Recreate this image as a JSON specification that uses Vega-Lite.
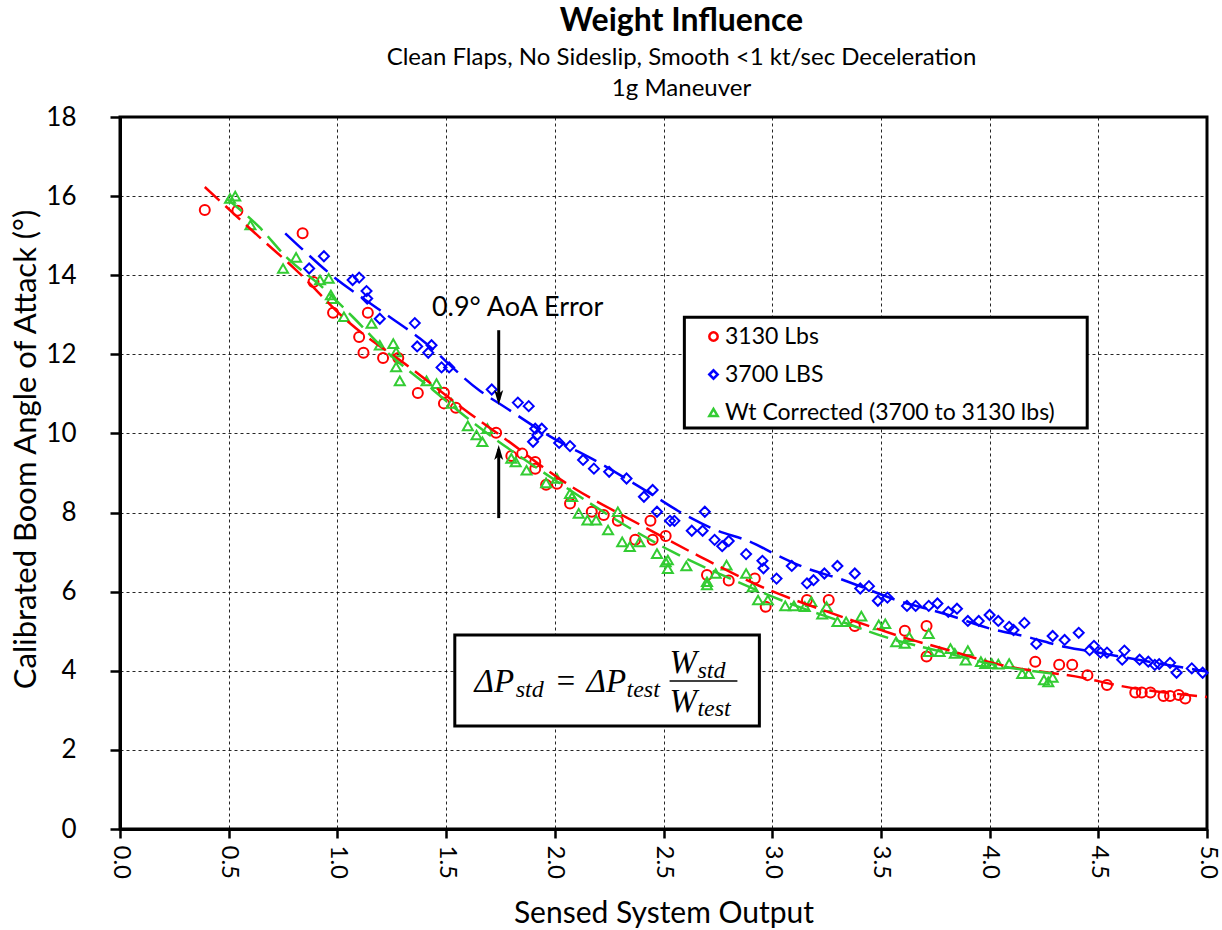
{
  "$schema": "https://vega.github.io/schema/vega-lite/v6.json",
  "width": 1087,
  "height": 712,
  "autosize": "none",
  "padding": {"left": 120, "top": 117, "right": 15, "bottom": 101},
  "background": "white",
  "config": {
    "view": {"stroke": "black", "strokeWidth": 3},
    "font": "Lato",
    "axis": {
      "labelFont": "Lato", "titleFont": "Lato", "labelColor": "black", "titleColor": "black",
      "titleFontWeight": "normal", "domainColor": "black", "domainWidth": 3, "tickColor": "black",
      "tickWidth": 2.5, "gridColor": "black", "gridDash": [3, 3], "gridWidth": 1, "gridOpacity": 0.85
    }
  },
  "title": {
    "text": "Weight Influence",
    "subtitle": ["Clean Flaps, No Sideslip, Smooth <1 kt/sec Deceleration", "1g Maneuver"],
    "font": "Lato", "fontSize": 32, "fontWeight": "bold", "color": "black",
    "subtitleFont": "Lato", "subtitleFontSize": 24, "subtitleColor": "black",
    "subtitleLineHeight": 31, "subtitlePadding": 8,
    "anchor": "middle", "dx": 18, "offset": 2
  },
  "datasets": {
    "pts": [
      {"series": "3130 Lbs", "x": 0.39, "y": 15.65}, {"series": "3130 Lbs", "x": 0.54, "y": 15.63}, {"series": "3130 Lbs", "x": 0.84, "y": 15.06},
      {"series": "3130 Lbs", "x": 0.89, "y": 13.83}, {"series": "3130 Lbs", "x": 0.98, "y": 13.05}, {"series": "3130 Lbs", "x": 1.14, "y": 13.05},
      {"series": "3130 Lbs", "x": 1.10, "y": 12.44}, {"series": "3130 Lbs", "x": 1.12, "y": 12.04}, {"series": "3130 Lbs", "x": 1.21, "y": 11.91},
      {"series": "3130 Lbs", "x": 1.28, "y": 11.91}, {"series": "3130 Lbs", "x": 1.37, "y": 11.02}, {"series": "3130 Lbs", "x": 1.49, "y": 11.03},
      {"series": "3130 Lbs", "x": 1.49, "y": 10.76}, {"series": "3130 Lbs", "x": 1.545, "y": 10.65}, {"series": "3130 Lbs", "x": 1.73, "y": 10.02},
      {"series": "3130 Lbs", "x": 1.80, "y": 9.43}, {"series": "3130 Lbs", "x": 1.85, "y": 9.49}, {"series": "3130 Lbs", "x": 1.91, "y": 9.28},
      {"series": "3130 Lbs", "x": 1.91, "y": 9.11}, {"series": "3130 Lbs", "x": 1.96, "y": 8.70}, {"series": "3130 Lbs", "x": 2.01, "y": 8.73},
      {"series": "3130 Lbs", "x": 2.07, "y": 8.23}, {"series": "3130 Lbs", "x": 2.17, "y": 8.02}, {"series": "3130 Lbs", "x": 2.225, "y": 7.94},
      {"series": "3130 Lbs", "x": 2.29, "y": 7.79}, {"series": "3130 Lbs", "x": 2.44, "y": 7.79}, {"series": "3130 Lbs", "x": 2.37, "y": 7.31},
      {"series": "3130 Lbs", "x": 2.45, "y": 7.31}, {"series": "3130 Lbs", "x": 2.51, "y": 7.41}, {"series": "3130 Lbs", "x": 2.70, "y": 6.42},
      {"series": "3130 Lbs", "x": 2.80, "y": 6.28}, {"series": "3130 Lbs", "x": 2.92, "y": 6.33}, {"series": "3130 Lbs", "x": 2.97, "y": 5.62},
      {"series": "3130 Lbs", "x": 3.16, "y": 5.79}, {"series": "3130 Lbs", "x": 3.26, "y": 5.79}, {"series": "3130 Lbs", "x": 3.38, "y": 5.13},
      {"series": "3130 Lbs", "x": 3.61, "y": 5.01}, {"series": "3130 Lbs", "x": 3.71, "y": 5.13}, {"series": "3130 Lbs", "x": 3.71, "y": 4.36},
      {"series": "3130 Lbs", "x": 4.21, "y": 4.23}, {"series": "3130 Lbs", "x": 4.32, "y": 4.15}, {"series": "3130 Lbs", "x": 4.38, "y": 4.15},
      {"series": "3130 Lbs", "x": 4.45, "y": 3.89}, {"series": "3130 Lbs", "x": 4.54, "y": 3.64}, {"series": "3130 Lbs", "x": 4.67, "y": 3.45},
      {"series": "3130 Lbs", "x": 4.70, "y": 3.45}, {"series": "3130 Lbs", "x": 4.74, "y": 3.45}, {"series": "3130 Lbs", "x": 4.80, "y": 3.36},
      {"series": "3130 Lbs", "x": 4.83, "y": 3.36}, {"series": "3130 Lbs", "x": 4.87, "y": 3.39}, {"series": "3130 Lbs", "x": 4.90, "y": 3.30},

      {"series": "3700 LBS", "x": 0.87, "y": 14.17}, {"series": "3700 LBS", "x": 0.938, "y": 14.48}, {"series": "3700 LBS", "x": 1.07, "y": 13.88},
      {"series": "3700 LBS", "x": 1.10, "y": 13.94}, {"series": "3700 LBS", "x": 1.134, "y": 13.6}, {"series": "3700 LBS", "x": 1.137, "y": 13.41},
      {"series": "3700 LBS", "x": 1.195, "y": 12.9}, {"series": "3700 LBS", "x": 1.356, "y": 12.79}, {"series": "3700 LBS", "x": 1.367, "y": 12.2},
      {"series": "3700 LBS", "x": 1.433, "y": 12.23}, {"series": "3700 LBS", "x": 1.418, "y": 12.04}, {"series": "3700 LBS", "x": 1.479, "y": 11.67},
      {"series": "3700 LBS", "x": 1.514, "y": 11.67}, {"series": "3700 LBS", "x": 1.71, "y": 11.11}, {"series": "3700 LBS", "x": 1.83, "y": 10.78},
      {"series": "3700 LBS", "x": 1.88, "y": 10.69}, {"series": "3700 LBS", "x": 1.91, "y": 10.12}, {"series": "3700 LBS", "x": 1.94, "y": 10.12},
      {"series": "3700 LBS", "x": 1.92, "y": 9.96}, {"series": "3700 LBS", "x": 1.90, "y": 9.79}, {"series": "3700 LBS", "x": 2.02, "y": 9.76},
      {"series": "3700 LBS", "x": 2.07, "y": 9.68}, {"series": "3700 LBS", "x": 2.13, "y": 9.33}, {"series": "3700 LBS", "x": 2.18, "y": 9.11},
      {"series": "3700 LBS", "x": 2.25, "y": 9.03}, {"series": "3700 LBS", "x": 2.33, "y": 8.86}, {"series": "3700 LBS", "x": 2.41, "y": 8.4},
      {"series": "3700 LBS", "x": 2.45, "y": 8.57}, {"series": "3700 LBS", "x": 2.47, "y": 8.02}, {"series": "3700 LBS", "x": 2.53, "y": 7.79},
      {"series": "3700 LBS", "x": 2.55, "y": 7.79}, {"series": "3700 LBS", "x": 2.69, "y": 8.02}, {"series": "3700 LBS", "x": 2.63, "y": 7.54},
      {"series": "3700 LBS", "x": 2.68, "y": 7.54}, {"series": "3700 LBS", "x": 2.735, "y": 7.31}, {"series": "3700 LBS", "x": 2.77, "y": 7.15},
      {"series": "3700 LBS", "x": 2.80, "y": 7.28}, {"series": "3700 LBS", "x": 2.88, "y": 6.95}, {"series": "3700 LBS", "x": 2.955, "y": 6.78},
      {"series": "3700 LBS", "x": 2.96, "y": 6.59}, {"series": "3700 LBS", "x": 3.02, "y": 6.33}, {"series": "3700 LBS", "x": 3.09, "y": 6.65},
      {"series": "3700 LBS", "x": 3.16, "y": 6.21}, {"series": "3700 LBS", "x": 3.19, "y": 6.29}, {"series": "3700 LBS", "x": 3.24, "y": 6.46},
      {"series": "3700 LBS", "x": 3.30, "y": 6.65}, {"series": "3700 LBS", "x": 3.38, "y": 6.46}, {"series": "3700 LBS", "x": 3.405, "y": 6.08},
      {"series": "3700 LBS", "x": 3.445, "y": 6.14}, {"series": "3700 LBS", "x": 3.486, "y": 5.77}, {"series": "3700 LBS", "x": 3.53, "y": 5.85},
      {"series": "3700 LBS", "x": 3.62, "y": 5.64}, {"series": "3700 LBS", "x": 3.66, "y": 5.64}, {"series": "3700 LBS", "x": 3.72, "y": 5.64},
      {"series": "3700 LBS", "x": 3.76, "y": 5.70}, {"series": "3700 LBS", "x": 3.81, "y": 5.49}, {"series": "3700 LBS", "x": 3.85, "y": 5.57},
      {"series": "3700 LBS", "x": 3.90, "y": 5.26}, {"series": "3700 LBS", "x": 3.95, "y": 5.26}, {"series": "3700 LBS", "x": 4.0, "y": 5.41},
      {"series": "3700 LBS", "x": 4.04, "y": 5.26}, {"series": "3700 LBS", "x": 4.09, "y": 5.11}, {"series": "3700 LBS", "x": 4.11, "y": 5.03},
      {"series": "3700 LBS", "x": 4.16, "y": 5.21}, {"series": "3700 LBS", "x": 4.215, "y": 4.68}, {"series": "3700 LBS", "x": 4.29, "y": 4.88},
      {"series": "3700 LBS", "x": 4.345, "y": 4.78}, {"series": "3700 LBS", "x": 4.41, "y": 4.96}, {"series": "3700 LBS", "x": 4.46, "y": 4.52},
      {"series": "3700 LBS", "x": 4.48, "y": 4.63}, {"series": "3700 LBS", "x": 4.51, "y": 4.46}, {"series": "3700 LBS", "x": 4.54, "y": 4.46},
      {"series": "3700 LBS", "x": 4.62, "y": 4.51}, {"series": "3700 LBS", "x": 4.61, "y": 4.28}, {"series": "3700 LBS", "x": 4.69, "y": 4.28},
      {"series": "3700 LBS", "x": 4.73, "y": 4.23}, {"series": "3700 LBS", "x": 4.76, "y": 4.15}, {"series": "3700 LBS", "x": 4.78, "y": 4.17},
      {"series": "3700 LBS", "x": 4.83, "y": 4.2}, {"series": "3700 LBS", "x": 4.86, "y": 3.95}, {"series": "3700 LBS", "x": 4.93, "y": 4.06},
      {"series": "3700 LBS", "x": 4.98, "y": 3.95},

      {"series": "Wt Corrected (3700 to 3130 lbs)", "x": 0.506, "y": 15.94}, {"series": "Wt Corrected (3700 to 3130 lbs)", "x": 0.53, "y": 16.0},
      {"series": "Wt Corrected (3700 to 3130 lbs)", "x": 0.60, "y": 15.27}, {"series": "Wt Corrected (3700 to 3130 lbs)", "x": 0.75, "y": 14.17},
      {"series": "Wt Corrected (3700 to 3130 lbs)", "x": 0.81, "y": 14.45}, {"series": "Wt Corrected (3700 to 3130 lbs)", "x": 0.92, "y": 13.88},
      {"series": "Wt Corrected (3700 to 3130 lbs)", "x": 0.96, "y": 13.92}, {"series": "Wt Corrected (3700 to 3130 lbs)", "x": 0.97, "y": 13.5},
      {"series": "Wt Corrected (3700 to 3130 lbs)", "x": 0.975, "y": 13.41}, {"series": "Wt Corrected (3700 to 3130 lbs)", "x": 1.03, "y": 12.95},
      {"series": "Wt Corrected (3700 to 3130 lbs)", "x": 1.157, "y": 12.78}, {"series": "Wt Corrected (3700 to 3130 lbs)", "x": 1.195, "y": 12.23},
      {"series": "Wt Corrected (3700 to 3130 lbs)", "x": 1.257, "y": 12.27}, {"series": "Wt Corrected (3700 to 3130 lbs)", "x": 1.27, "y": 12.06},
      {"series": "Wt Corrected (3700 to 3130 lbs)", "x": 1.27, "y": 11.68}, {"series": "Wt Corrected (3700 to 3130 lbs)", "x": 1.287, "y": 11.33},
      {"series": "Wt Corrected (3700 to 3130 lbs)", "x": 1.41, "y": 11.33}, {"series": "Wt Corrected (3700 to 3130 lbs)", "x": 1.456, "y": 11.26},
      {"series": "Wt Corrected (3700 to 3130 lbs)", "x": 1.525, "y": 10.76}, {"series": "Wt Corrected (3700 to 3130 lbs)", "x": 1.60, "y": 10.19},
      {"series": "Wt Corrected (3700 to 3130 lbs)", "x": 1.64, "y": 9.96}, {"series": "Wt Corrected (3700 to 3130 lbs)", "x": 1.667, "y": 9.79},
      {"series": "Wt Corrected (3700 to 3130 lbs)", "x": 1.69, "y": 10.12}, {"series": "Wt Corrected (3700 to 3130 lbs)", "x": 1.80, "y": 9.37},
      {"series": "Wt Corrected (3700 to 3130 lbs)", "x": 1.82, "y": 9.28}, {"series": "Wt Corrected (3700 to 3130 lbs)", "x": 1.87, "y": 9.07},
      {"series": "Wt Corrected (3700 to 3130 lbs)", "x": 1.96, "y": 8.75}, {"series": "Wt Corrected (3700 to 3130 lbs)", "x": 2.01, "y": 8.86},
      {"series": "Wt Corrected (3700 to 3130 lbs)", "x": 2.07, "y": 8.48}, {"series": "Wt Corrected (3700 to 3130 lbs)", "x": 2.08, "y": 8.40},
      {"series": "Wt Corrected (3700 to 3130 lbs)", "x": 2.11, "y": 7.98}, {"series": "Wt Corrected (3700 to 3130 lbs)", "x": 2.15, "y": 7.81},
      {"series": "Wt Corrected (3700 to 3130 lbs)", "x": 2.19, "y": 7.81}, {"series": "Wt Corrected (3700 to 3130 lbs)", "x": 2.245, "y": 7.56},
      {"series": "Wt Corrected (3700 to 3130 lbs)", "x": 2.29, "y": 8.02}, {"series": "Wt Corrected (3700 to 3130 lbs)", "x": 2.31, "y": 7.26},
      {"series": "Wt Corrected (3700 to 3130 lbs)", "x": 2.345, "y": 7.14}, {"series": "Wt Corrected (3700 to 3130 lbs)", "x": 2.39, "y": 7.26},
      {"series": "Wt Corrected (3700 to 3130 lbs)", "x": 2.47, "y": 6.96}, {"series": "Wt Corrected (3700 to 3130 lbs)", "x": 2.52, "y": 6.80},
      {"series": "Wt Corrected (3700 to 3130 lbs)", "x": 2.51, "y": 6.75}, {"series": "Wt Corrected (3700 to 3130 lbs)", "x": 2.52, "y": 6.58},
      {"series": "Wt Corrected (3700 to 3130 lbs)", "x": 2.605, "y": 6.65}, {"series": "Wt Corrected (3700 to 3130 lbs)", "x": 2.70, "y": 6.25},
      {"series": "Wt Corrected (3700 to 3130 lbs)", "x": 2.70, "y": 6.17}, {"series": "Wt Corrected (3700 to 3130 lbs)", "x": 2.74, "y": 6.46},
      {"series": "Wt Corrected (3700 to 3130 lbs)", "x": 2.79, "y": 6.67}, {"series": "Wt Corrected (3700 to 3130 lbs)", "x": 2.88, "y": 6.46},
      {"series": "Wt Corrected (3700 to 3130 lbs)", "x": 2.91, "y": 6.12}, {"series": "Wt Corrected (3700 to 3130 lbs)", "x": 2.935, "y": 5.79},
      {"series": "Wt Corrected (3700 to 3130 lbs)", "x": 2.98, "y": 5.79}, {"series": "Wt Corrected (3700 to 3130 lbs)", "x": 3.06, "y": 5.64},
      {"series": "Wt Corrected (3700 to 3130 lbs)", "x": 3.10, "y": 5.64}, {"series": "Wt Corrected (3700 to 3130 lbs)", "x": 3.15, "y": 5.62},
      {"series": "Wt Corrected (3700 to 3130 lbs)", "x": 3.18, "y": 5.75}, {"series": "Wt Corrected (3700 to 3130 lbs)", "x": 3.23, "y": 5.43},
      {"series": "Wt Corrected (3700 to 3130 lbs)", "x": 3.25, "y": 5.62}, {"series": "Wt Corrected (3700 to 3130 lbs)", "x": 3.30, "y": 5.24},
      {"series": "Wt Corrected (3700 to 3130 lbs)", "x": 3.34, "y": 5.24}, {"series": "Wt Corrected (3700 to 3130 lbs)", "x": 3.41, "y": 5.38},
      {"series": "Wt Corrected (3700 to 3130 lbs)", "x": 3.49, "y": 5.16}, {"series": "Wt Corrected (3700 to 3130 lbs)", "x": 3.52, "y": 5.19},
      {"series": "Wt Corrected (3700 to 3130 lbs)", "x": 3.57, "y": 4.73}, {"series": "Wt Corrected (3700 to 3130 lbs)", "x": 3.61, "y": 4.69},
      {"series": "Wt Corrected (3700 to 3130 lbs)", "x": 3.63, "y": 4.86}, {"series": "Wt Corrected (3700 to 3130 lbs)", "x": 3.72, "y": 4.94},
      {"series": "Wt Corrected (3700 to 3130 lbs)", "x": 3.72, "y": 4.48}, {"series": "Wt Corrected (3700 to 3130 lbs)", "x": 3.77, "y": 4.48},
      {"series": "Wt Corrected (3700 to 3130 lbs)", "x": 3.82, "y": 4.56}, {"series": "Wt Corrected (3700 to 3130 lbs)", "x": 3.84, "y": 4.44},
      {"series": "Wt Corrected (3700 to 3130 lbs)", "x": 3.89, "y": 4.27}, {"series": "Wt Corrected (3700 to 3130 lbs)", "x": 3.90, "y": 4.51},
      {"series": "Wt Corrected (3700 to 3130 lbs)", "x": 3.96, "y": 4.23}, {"series": "Wt Corrected (3700 to 3130 lbs)", "x": 3.98, "y": 4.18},
      {"series": "Wt Corrected (3700 to 3130 lbs)", "x": 4.01, "y": 4.18}, {"series": "Wt Corrected (3700 to 3130 lbs)", "x": 4.04, "y": 4.17},
      {"series": "Wt Corrected (3700 to 3130 lbs)", "x": 4.09, "y": 4.18}, {"series": "Wt Corrected (3700 to 3130 lbs)", "x": 4.15, "y": 3.93},
      {"series": "Wt Corrected (3700 to 3130 lbs)", "x": 4.18, "y": 3.93}, {"series": "Wt Corrected (3700 to 3130 lbs)", "x": 4.25, "y": 3.77},
      {"series": "Wt Corrected (3700 to 3130 lbs)", "x": 4.27, "y": 3.72}, {"series": "Wt Corrected (3700 to 3130 lbs)", "x": 4.29, "y": 3.83}
    ],
    "fits": [
      {"series": "red", "x": 0.39, "y": 16.23}, {"series": "red", "x": 0.64, "y": 14.97}, {"series": "red", "x": 0.81, "y": 14.13},
      {"series": "red", "x": 1.04, "y": 12.87}, {"series": "red", "x": 1.35, "y": 11.6}, {"series": "red", "x": 1.61, "y": 10.5},
      {"series": "red", "x": 1.75, "y": 9.95}, {"series": "red", "x": 2.05, "y": 8.75}, {"series": "red", "x": 2.39, "y": 7.7},
      {"series": "red", "x": 2.67, "y": 6.88}, {"series": "red", "x": 2.94, "y": 6.15}, {"series": "red", "x": 3.25, "y": 5.5},
      {"series": "red", "x": 3.43, "y": 5.16}, {"series": "red", "x": 3.63, "y": 4.8}, {"series": "red", "x": 3.78, "y": 4.57},
      {"series": "red", "x": 4.05, "y": 4.15}, {"series": "red", "x": 4.43, "y": 3.82}, {"series": "red", "x": 4.6, "y": 3.62},
      {"series": "red", "x": 5.0, "y": 3.34},
      {"series": "blue", "x": 0.76, "y": 15.06}, {"series": "blue", "x": 0.86, "y": 14.55}, {"series": "blue", "x": 0.965, "y": 14.04},
      {"series": "blue", "x": 1.195, "y": 13.12}, {"series": "blue", "x": 1.38, "y": 12.4}, {"series": "blue", "x": 1.655, "y": 11.08},
      {"series": "blue", "x": 1.78, "y": 10.63}, {"series": "blue", "x": 1.98, "y": 9.92}, {"series": "blue", "x": 2.21, "y": 9.24},
      {"series": "blue", "x": 2.44, "y": 8.48}, {"series": "blue", "x": 2.59, "y": 7.97}, {"series": "blue", "x": 2.74, "y": 7.56},
      {"series": "blue", "x": 2.9, "y": 7.26}, {"series": "blue", "x": 3.02, "y": 6.93}, {"series": "blue", "x": 3.14, "y": 6.63},
      {"series": "blue", "x": 3.33, "y": 6.29}, {"series": "blue", "x": 3.57, "y": 5.79}, {"series": "blue", "x": 3.8, "y": 5.43},
      {"series": "blue", "x": 4.0, "y": 5.07}, {"series": "blue", "x": 4.17, "y": 4.86}, {"series": "blue", "x": 4.35, "y": 4.6},
      {"series": "blue", "x": 4.51, "y": 4.45}, {"series": "blue", "x": 4.69, "y": 4.27}, {"series": "blue", "x": 4.87, "y": 4.1},
      {"series": "blue", "x": 5.0, "y": 3.98},
      {"series": "green", "x": 0.49, "y": 15.94}, {"series": "green", "x": 0.64, "y": 15.22}, {"series": "green", "x": 0.77, "y": 14.43},
      {"series": "green", "x": 0.92, "y": 13.75}, {"series": "green", "x": 1.07, "y": 12.95}, {"series": "green", "x": 1.23, "y": 12.05},
      {"series": "green", "x": 1.44, "y": 11.1}, {"series": "green", "x": 1.59, "y": 10.42}, {"series": "green", "x": 1.99, "y": 8.86},
      {"series": "green", "x": 2.36, "y": 7.56}, {"series": "green", "x": 2.54, "y": 7.01}, {"series": "green", "x": 2.82, "y": 6.3},
      {"series": "green", "x": 3.08, "y": 5.7}, {"series": "green", "x": 3.3, "y": 5.28}, {"series": "green", "x": 3.54, "y": 4.82},
      {"series": "green", "x": 3.78, "y": 4.48}, {"series": "green", "x": 4.05, "y": 4.12}, {"series": "green", "x": 4.29, "y": 3.93}
    ],
    "boxes": [
      {"x1": 2.596, "x2": 4.449, "y1": 12.94, "y2": 10.14},
      {"x1": 1.540, "x2": 2.941, "y1": 4.904, "y2": 2.604}
    ],
    "eqMain": [
      {"t": "ΔP", "x": 1.631, "y": 3.46}, {"t": "=", "x": 1.999, "y": 3.46}, {"t": "ΔP", "x": 2.146, "y": 3.46},
      {"t": "W", "x": 2.528, "y": 3.94}, {"t": "W", "x": 2.528, "y": 2.965}
    ],
    "eqSub": [
      {"t": "std", "x": 1.820, "y": 3.34}, {"t": "test", "x": 2.330, "y": 3.34},
      {"t": "std", "x": 2.656, "y": 3.82}, {"t": "test", "x": 2.656, "y": 2.86}
    ],
    "frac": [{"x1": 2.528, "x2": 2.84, "y": 3.74}],
    "note": [{"t": "0.9° AoA Error", "x": 1.829, "y": 13.17}],
    "arrows": [{"x": 1.742, "y1": 12.61, "y2": 10.85}, {"x": 1.742, "y1": 7.86, "y2": 9.6}],
    "headDown": [{"x": 1.742, "y": 10.91}],
    "headUp": [{"x": 1.742, "y": 9.52}]
  },
  "layer": [
    {
      "data": {"name": "boxes"},
      "mark": {"type": "rect", "fill": "white", "stroke": "black", "strokeWidth": 3},
      "encoding": {
        "x": {"field": "x1", "type": "quantitative", "scale": {"domain": [0, 5], "nice": false, "zero": false},
          "axis": {"values": [0, 0.5, 1, 1.5, 2, 2.5, 3, 3.5, 4, 4.5, 5], "format": ".1f", "labelAngle": 90,
            "labelFontSize": 24, "labelPadding": 7, "tickSize": 9, "title": "Sensed System Output",
            "titleFontSize": 30, "titlePadding": 20, "grid": true}},
        "x2": {"field": "x2"},
        "y": {"field": "y1", "type": "quantitative", "scale": {"domain": [0, 18], "nice": false, "zero": false},
          "axis": {"values": [0, 2, 4, 6, 8, 10, 12, 14, 16, 18], "labelFontSize": 26, "labelPadding": 34, "tickSize": 10,
            "title": "Calibrated Boom Angle of Attack (°)", "titleFontSize": 31, "titlePadding": 3, "titleY": 332, "grid": true}},
        "y2": {"field": "y2"}
      }
    },
    {
      "data": {"name": "pts"},
      "mark": {"type": "point", "filled": false, "strokeWidth": 2, "size": 100, "opacity": 1},
      "encoding": {
        "x": {"field": "x", "type": "quantitative"},
        "y": {"field": "y", "type": "quantitative"},
        "color": {"field": "series", "type": "nominal",
          "scale": {"domain": ["3130 Lbs", "3700 LBS", "Wt Corrected (3700 to 3130 lbs)"], "range": ["#ff0000", "#0000ff", "#33cc33"]},
          "legend": {"title": null, "orient": "none", "legendX": 582, "legendY": 208, "padding": 0,
            "labelFont": "Lato", "labelFontSize": 23, "labelColor": "black", "labelOffset": 0,
            "symbolSize": 70, "symbolStrokeWidth": 2.5, "rowPadding": 14, "labelLimit": 500}},
        "shape": {"field": "series", "type": "nominal",
          "scale": {"domain": ["3130 Lbs", "3700 LBS", "Wt Corrected (3700 to 3130 lbs)"], "range": ["circle", "diamond", "triangle-up"]}}
      }
    },
    {
      "data": {"name": "fits"},
      "transform": [{"filter": "datum.series === 'red'"}],
      "mark": {"type": "line", "color": "#ff0000", "strokeWidth": 2.5, "strokeDash": [20, 8], "interpolate": "monotone"},
      "encoding": {"x": {"field": "x", "type": "quantitative"}, "y": {"field": "y", "type": "quantitative"}}
    },
    {
      "data": {"name": "fits"},
      "transform": [{"filter": "datum.series === 'blue'"}],
      "mark": {"type": "line", "color": "#0000ff", "strokeWidth": 2.5, "strokeDash": [24, 9], "interpolate": "monotone"},
      "encoding": {"x": {"field": "x", "type": "quantitative"}, "y": {"field": "y", "type": "quantitative"}}
    },
    {
      "data": {"name": "fits"},
      "transform": [{"filter": "datum.series === 'green'"}],
      "mark": {"type": "line", "color": "#33cc33", "strokeWidth": 2.5, "strokeDash": [20, 8], "interpolate": "monotone"},
      "encoding": {"x": {"field": "x", "type": "quantitative"}, "y": {"field": "y", "type": "quantitative"}}
    },
    {
      "data": {"name": "eqMain"},
      "mark": {"type": "text", "font": "Liberation Serif", "fontStyle": "italic", "fontSize": 33, "align": "left", "baseline": "alphabetic", "color": "black"},
      "encoding": {"x": {"field": "x", "type": "quantitative"}, "y": {"field": "y", "type": "quantitative"}, "text": {"field": "t"}}
    },
    {
      "data": {"name": "eqSub"},
      "mark": {"type": "text", "font": "Liberation Serif", "fontStyle": "italic", "fontSize": 24, "align": "left", "baseline": "alphabetic", "color": "black"},
      "encoding": {"x": {"field": "x", "type": "quantitative"}, "y": {"field": "y", "type": "quantitative"}, "text": {"field": "t"}}
    },
    {
      "data": {"name": "frac"},
      "mark": {"type": "rule", "color": "black", "strokeWidth": 1.5},
      "encoding": {"x": {"field": "x1", "type": "quantitative"}, "x2": {"field": "x2"}, "y": {"field": "y", "type": "quantitative"}}
    },
    {
      "data": {"name": "note"},
      "mark": {"type": "text", "font": "Lato", "fontSize": 27, "align": "center", "baseline": "middle", "color": "black"},
      "encoding": {"x": {"field": "x", "type": "quantitative"}, "y": {"field": "y", "type": "quantitative"}, "text": {"field": "t"}}
    },
    {
      "data": {"name": "arrows"},
      "mark": {"type": "rule", "color": "black", "strokeWidth": 3},
      "encoding": {"x": {"field": "x", "type": "quantitative"}, "y": {"field": "y1", "type": "quantitative"}, "y2": {"field": "y2"}}
    },
    {
      "data": {"name": "headDown"},
      "mark": {"type": "point", "shape": "M0,1 L-0.6,-1 L0,-0.5 L0.6,-1 Z", "filled": true, "size": 225, "color": "black", "opacity": 1},
      "encoding": {"x": {"field": "x", "type": "quantitative"}, "y": {"field": "y", "type": "quantitative"}}
    },
    {
      "data": {"name": "headUp"},
      "mark": {"type": "point", "shape": "M0,-1 L-0.6,1 L0,0.5 L0.6,1 Z", "filled": true, "size": 225, "color": "black", "opacity": 1},
      "encoding": {"x": {"field": "x", "type": "quantitative"}, "y": {"field": "y", "type": "quantitative"}}
    }
  ]
}
